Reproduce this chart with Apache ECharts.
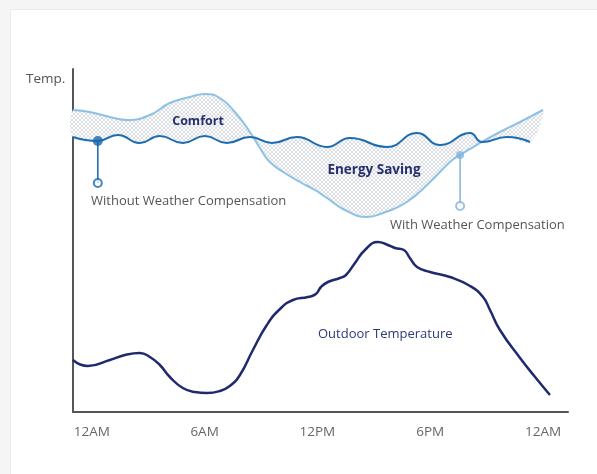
<!DOCTYPE html>
<html>
<head>
<meta charset="utf-8">
<script src="https://cdn.jsdelivr.net/npm/echarts@6/dist/echarts.min.js"></script>
<style>
html, body { margin: 0; padding: 0; background: #f5f5f5; }
#chart { width: 597px; height: 474px; }
</style>
</head>
<body>
<div id="chart"></div>
<script>
// hours since midnight on x, relative temperature level on y (no scale shown)
const tickHours = [0, 6, 12, 18, 24]
const tickLabels = ["12AM", "6AM", "12PM", "6PM", "12AM"]

const outdoorHours = [-1.01, -0.21, 0.96, 1.76, 2.55, 3.09, 3.62, 4.15, 4.84, 5.48, 6.12, 6.81, 7.34, 7.88, 8.57, 9.31, 10.01, 10.7, 11.5, 11.92, 12.19, 12.56, 13.2, 13.52, 14.0, 14.53, 15.22, 15.75, 16.13, 16.6, 16.92, 17.3, 17.99, 19.05, 20.12, 20.81, 21.18, 21.71, 22.78, 23.58, 24.37]
const outdoorTemp = [51, 45, 51, 56, 58, 54, 46, 34, 23, 19, 18, 20, 25, 36, 61, 86, 102, 111, 114, 117, 124, 129, 133, 136, 148, 161, 169, 166, 163, 161, 153, 144, 139, 134, 125, 114, 101, 81, 53, 34, 16]

// with weather compensation
const withHours = [-1.0, -0.1, 0.96, 1.92, 3.09, 4.15, 5.22, 6.01, 6.81, 7.61, 8.41, 8.94, 9.47, 10.27, 11.07, 11.87, 12.51, 13.46, 14.64, 15.49, 16.76, 17.99, 19.05, 19.59, 20.65, 21.71, 22.78, 24.0]
const withTemp = [301, 299, 294, 291, 296, 308, 314, 317, 313, 299, 279, 263, 249, 238, 229, 221, 213, 201, 194, 198, 209, 229, 249, 256, 268, 279, 289, 301]

// without weather compensation (wavy, peaks and troughs)
const withoutHours = [-1.01, 0.32, 1.38, 2.55, 3.62, 4.84, 6.01, 7.18, 8.41, 9.58, 10.91, 12.51, 13.73, 15.7, 17.3, 18.52, 20.12, 20.76, 22.09, 23.31]
const withoutTemp = [274, 270, 276, 268, 275, 268, 275, 268, 274, 268, 274, 264, 273, 264, 278, 266, 278, 269, 274, 269]

// callout markers: [without, with]
const markHours = [0.32, 19.59]
const markOnLine = [270, 256]
const markTip = [228, 205]
const markColors = ["#1766ad", "#7fb3dd"]

const FONT = "Open Sans"

function hatchPattern() {
    const c = document.createElement("canvas")
    c.width = 4
    c.height = 4
    const ctx = c.getContext("2d")
    ctx.fillStyle = "#ffffff"
    ctx.fillRect(0, 0, 4, 4)
    ctx.fillStyle = "#dadee4"
    for (let i = 0; i < 4; i++) {
        ctx.fillRect(i, i, 1, 1)
        ctx.fillRect(3 - i, i, 1, 1)
    }
    return c
}

const zip = (xs, ys) => xs.map((x, i) => [x, ys[i]])
const pattern = hatchPattern()

const chart = echarts.init(document.getElementById("chart"))

chart.setOption({
    animation: false,
    backgroundColor: "#f5f5f5",
    grid: { left: 73, right: 29, top: 69, bottom: 62 },
    xAxis: {
        type: "value",
        min: -1,
        max: 25.33,
        splitLine: { show: false },
        axisTick: { show: false, customValues: tickHours },
        axisLine: { onZero: false, lineStyle: { color: "#555", width: 2 } },
        axisLabel: {
            customValues: tickHours,
            formatter: v => tickLabels[tickHours.indexOf(v)],
            color: "#666",
            fontFamily: FONT,
            fontSize: 13.5,
            margin: 13
        }
    },
    yAxis: {
        type: "value",
        min: -1,
        max: 342,
        splitLine: { show: false },
        axisTick: { show: false },
        axisLabel: { show: false },
        axisLine: { show: true, onZero: false, lineStyle: { color: "#555", width: 2 } }
    },
    graphic: [
        { type: "rect", left: 10, top: 9, shape: { width: 600, height: 480 }, style: { fill: "#fff", stroke: "#ececec" }, z: -10 },
        { type: "text", x: 26, y: 79, style: { text: "Temp.", font: `13.5px "${FONT}"`, fill: "#555", verticalAlign: "middle" } },
        { type: "text", x: 198, y: 121, z: 10, style: { text: "Comfort", font: `bold 12.5px "${FONT}"`, fill: "#27306e", align: "center", verticalAlign: "middle" } },
        { type: "text", x: 374, y: 170, z: 10, style: { text: "Energy Saving", font: `bold 13.5px "${FONT}"`, fill: "#27306e", align: "center", verticalAlign: "middle" } },
        { type: "text", x: 91, y: 201, style: { text: "Without Weather Compensation", font: `13px "${FONT}"`, fill: "#555", verticalAlign: "middle" } },
        { type: "text", x: 390, y: 225, style: { text: "With Weather Compensation", font: `13px "${FONT}"`, fill: "#555", verticalAlign: "middle" } },
        { type: "text", x: 318, y: 334, style: { text: "Outdoor Temperature", font: `13px "${FONT}"`, fill: "#2b3a7a", verticalAlign: "middle" } }
    ],
    series: [
        {
            type: "custom",
            coordinateSystem: "cartesian2d",
            data: [[0, 0]],
            silent: true,
            z: 1,
            renderItem: (params, api) => {
                const pts = withHours.map((h, i) => api.coord([h, withTemp[i]]))
                for (let i = withoutHours.length - 1; i >= 0; i--) {
                    pts.push(api.coord([withoutHours[i], withoutTemp[i]]))
                }
                return {
                    type: "polygon",
                    shape: { points: pts, smooth: 0.35 },
                    style: { fill: { image: pattern, repeat: "repeat" } }
                }
            }
        },
        {
            type: "line",
            data: zip(withHours, withTemp),
            smooth: 0.5,
            symbol: "none",
            z: 3,
            lineStyle: { color: "#8dc1e5", width: 2 }
        },
        {
            type: "line",
            data: zip(withoutHours, withoutTemp),
            smooth: 0.5,
            symbol: "none",
            z: 4,
            lineStyle: { color: "#1b6cb0", width: 2 }
        },
        {
            type: "line",
            data: zip(outdoorHours, outdoorTemp),
            smooth: 0.5,
            symbol: "none",
            z: 4,
            lineStyle: { color: "#1f2a6e", width: 2.5 }
        },
        // callout stems
        ...markHours.map((h, i) => ({
            type: "line",
            data: [[h, markOnLine[i]], [h, markTip[i]]],
            symbol: "none",
            z: 5,
            lineStyle: { color: markColors[i], width: 1.5 }
        })),
        {
            type: "scatter",
            data: markHours.map((h, i) => ({
                value: [h, markOnLine[i]],
                symbolSize: i === 0 ? 10 : 8,
                itemStyle: { color: markColors[i] }
            })),
            z: 6
        },
        {
            type: "scatter",
            data: markHours.map((h, i) => ({
                value: [h, markTip[i]],
                itemStyle: { color: "#fff", borderWidth: 2, borderColor: markColors[i] }
            })),
            symbol: "circle",
            symbolSize: 8,
            z: 6
        }
    ]
})
</script>
</body>
</html>
